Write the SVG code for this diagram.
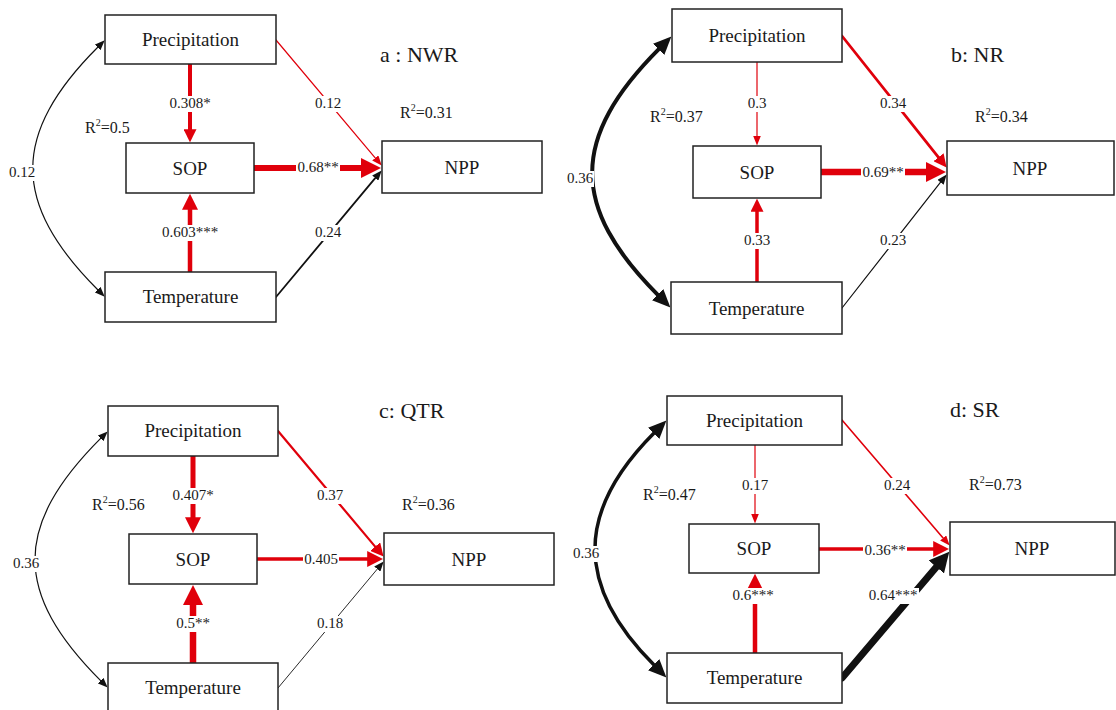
<svg xmlns="http://www.w3.org/2000/svg" width="1116" height="710" viewBox="0 0 1116 710">
<style>
text { font-family: "Liberation Serif", "Times New Roman", serif; fill: #1a1a1a; }
.box { fill: #fff; stroke: #222; stroke-width: 1.5; }
.nt { font-size: 19px; text-anchor: middle; }
.lb { font-size: 15px; text-anchor: middle; }
.r2 { font-size: 16px; }
.ti { font-size: 22px; }
.bg { fill: #fff; }
.red { fill: none; stroke: #e0000b; stroke-linecap: round; }
.blk { fill: none; stroke: #111; stroke-linecap: round; }
</style>
<defs>
<marker id="rS" markerUnits="userSpaceOnUse" markerWidth="10" markerHeight="8" viewBox="0 0 10 10" refX="0.5" refY="5" orient="auto-start-reverse" preserveAspectRatio="none"><path d="M0,0 L10,5 L0,10 Z" fill="#e0000b"/></marker>
<marker id="rM" markerUnits="userSpaceOnUse" markerWidth="13" markerHeight="13" viewBox="0 0 10 10" refX="0.5" refY="5" orient="auto-start-reverse" preserveAspectRatio="none"><path d="M0,0 L10,5 L0,10 Z" fill="#e0000b"/></marker>
<marker id="rL" markerUnits="userSpaceOnUse" markerWidth="16" markerHeight="16" viewBox="0 0 10 10" refX="0.5" refY="5" orient="auto-start-reverse" preserveAspectRatio="none"><path d="M0,0 L10,5 L0,10 Z" fill="#e0000b"/></marker>
<marker id="rX" markerUnits="userSpaceOnUse" markerWidth="20" markerHeight="20" viewBox="0 0 10 10" refX="0.5" refY="5" orient="auto-start-reverse" preserveAspectRatio="none"><path d="M0,0 L10,5 L0,10 Z" fill="#e0000b"/></marker>
<marker id="kS" markerUnits="userSpaceOnUse" markerWidth="10" markerHeight="8" viewBox="0 0 10 10" refX="0.5" refY="5" orient="auto-start-reverse" preserveAspectRatio="none"><path d="M0,0 L10,5 L0,10 Z" fill="#111"/></marker>
<marker id="kL" markerUnits="userSpaceOnUse" markerWidth="18" markerHeight="16" viewBox="0 0 10 10" refX="0.5" refY="5" orient="auto-start-reverse" preserveAspectRatio="none"><path d="M0,0 L10,5 L0,10 Z" fill="#111"/></marker>
<marker id="kX" markerUnits="userSpaceOnUse" markerWidth="20" markerHeight="20" viewBox="0 0 10 10" refX="0.5" refY="5" orient="auto-start-reverse" preserveAspectRatio="none"><path d="M0,0 L10,5 L0,10 Z" fill="#111"/></marker>
</defs>
<rect width="1116" height="710" fill="#fff"/>

<g id="connectors">
  <!-- panel a -->
  <path class="blk" stroke-width="1.2" d="M98,47 C11,134 11,203 98,290" marker-start="url(#kS)" marker-end="url(#kS)"/>
  <path class="red" stroke-width="4" d="M190,64 V130" marker-end="url(#rM)"/>
  <path class="red" stroke-width="4.5" d="M190,272 V209" marker-end="url(#rL)"/>
  <path class="red" stroke-width="1.2" d="M276,40 L375.6,158.3" marker-end="url(#rS)"/>
  <path class="red" stroke-width="6" d="M254,168 H362" marker-end="url(#rX)"/>
  <path class="blk" stroke-width="1.8" d="M276,297 L375.6,177.7" marker-end="url(#kS)"/>
  <!-- panel b -->
  <path class="blk" stroke-width="4" d="M659.3,48.7 C570,138 570,207 658.3,295.3" marker-start="url(#kL)" marker-end="url(#kL)"/>
  <path class="red" stroke-width="1.2" d="M757,62 V136" marker-end="url(#rS)"/>
  <path class="red" stroke-width="3.5" d="M757,282 V211" marker-end="url(#rM)"/>
  <path class="red" stroke-width="2.8" d="M842,36 L938.9,157.8" marker-end="url(#rM)"/>
  <path class="red" stroke-width="6.5" d="M821,172 H927" marker-end="url(#rX)"/>
  <path class="blk" stroke-width="1.2" d="M842,308 L940.8,181.9" marker-end="url(#kS)"/>
  <!-- panel c -->
  <path class="blk" stroke-width="1.2" d="M100.9,438.1 C13,526 13,593 100.9,680.9" marker-start="url(#kS)" marker-end="url(#kS)"/>
  <path class="red" stroke-width="5" d="M193,456 V518" marker-end="url(#rL)"/>
  <path class="red" stroke-width="6.5" d="M193,663 V604" marker-end="url(#rX)"/>
  <path class="red" stroke-width="2.2" d="M278,431 L375.6,547.1" marker-end="url(#rM)"/>
  <path class="red" stroke-width="3.5" d="M257,559 H368" marker-end="url(#rL)"/>
  <path class="blk" stroke-width="0.9" d="M278,688 L377.6,568.7" marker-end="url(#kS)"/>
  <!-- panel d -->
  <path class="blk" stroke-width="3.5" d="M654.3,432.7 C575.2,511.8 575.2,586.2 654.3,665.3" marker-start="url(#kL)" marker-end="url(#kL)"/>
  <path class="red" stroke-width="1.2" d="M755,445 V514" marker-end="url(#rS)"/>
  <path class="red" stroke-width="4.5" d="M755,653 V589" marker-end="url(#rL)"/>
  <path class="red" stroke-width="1.6" d="M842,420 L943.5,538.4" marker-end="url(#rS)"/>
  <path class="red" stroke-width="3.5" d="M819,549 H934" marker-end="url(#rL)"/>
  <path class="blk" stroke-width="7" d="M842,678 L937,566.2" marker-end="url(#kX)"/>

  <!-- label backgrounds -->
  <rect class="bg" x="8" y="165" width="28" height="16"/>
  <rect class="bg" x="168" y="96" width="44" height="16"/>
  <rect class="bg" x="314" y="96" width="28" height="16"/>
  <rect class="bg" x="296" y="160" width="44" height="16"/>
  <rect class="bg" x="161" y="225" width="58" height="16"/>
  <rect class="bg" x="314" y="225" width="28" height="16"/>

  <rect class="bg" x="566" y="171" width="28" height="16"/>
  <rect class="bg" x="746" y="96" width="22" height="16"/>
  <rect class="bg" x="879" y="96" width="28" height="16"/>
  <rect class="bg" x="861" y="165" width="44" height="16"/>
  <rect class="bg" x="743" y="233" width="28" height="16"/>
  <rect class="bg" x="879" y="233" width="28" height="16"/>

  <rect class="bg" x="12" y="556" width="28" height="16"/>
  <rect class="bg" x="171" y="488" width="44" height="16"/>
  <rect class="bg" x="316" y="488" width="28" height="16"/>
  <rect class="bg" x="303" y="552" width="36" height="16"/>
  <rect class="bg" x="175" y="616" width="36" height="16"/>
  <rect class="bg" x="316" y="616" width="28" height="16"/>

  <rect class="bg" x="572" y="546" width="28" height="16"/>
  <rect class="bg" x="741" y="478" width="28" height="16"/>
  <rect class="bg" x="883" y="478" width="28" height="16"/>
  <rect class="bg" x="863" y="543" width="44" height="16"/>
  <rect class="bg" x="731" y="588" width="44" height="16"/>
  <rect class="bg" x="867" y="588" width="52" height="16"/>

  <!-- labels -->
  <text class="lb" x="22" y="177">0.12</text>
  <text class="lb" x="190" y="108">0.308*</text>
  <text class="lb" x="328" y="108">0.12</text>
  <text class="lb" x="318" y="172">0.68**</text>
  <text class="lb" x="190" y="237">0.603***</text>
  <text class="lb" x="328" y="237">0.24</text>

  <text class="lb" x="580" y="183">0.36</text>
  <text class="lb" x="757" y="108">0.3</text>
  <text class="lb" x="893" y="108">0.34</text>
  <text class="lb" x="883" y="177">0.69**</text>
  <text class="lb" x="757" y="245">0.33</text>
  <text class="lb" x="893" y="245">0.23</text>

  <text class="lb" x="26" y="568">0.36</text>
  <text class="lb" x="193" y="500">0.407*</text>
  <text class="lb" x="330" y="500">0.37</text>
  <text class="lb" x="321" y="564">0.405</text>
  <text class="lb" x="193" y="628">0.5**</text>
  <text class="lb" x="330" y="628">0.18</text>

  <text class="lb" x="586" y="558">0.36</text>
  <text class="lb" x="755" y="490">0.17</text>
  <text class="lb" x="897" y="490">0.24</text>
  <text class="lb" x="885" y="555">0.36**</text>
  <text class="lb" x="753" y="600">0.6***</text>
  <text class="lb" x="893" y="600">0.64***</text>
</g>

<!-- panel a nodes -->
<g id="a-prec"><rect class="box" x="105" y="15" width="171" height="49"/><text class="nt" x="190.5" y="45.5">Precipitation</text></g>
<g id="a-sop"><rect class="box" x="126" y="143" width="128" height="50"/><text class="nt" x="190" y="174.5">SOP</text></g>
<g id="a-temp"><rect class="box" x="105" y="272" width="171" height="50"/><text class="nt" x="190.5" y="302.5">Temperature</text></g>
<g id="a-npp"><rect class="box" x="382" y="141" width="160" height="52"/><text class="nt" x="462" y="173.5">NPP</text></g>
<g id="a-title"><text class="ti" x="380" y="62">a : NWR</text></g>
<g id="a-r2"><text class="r2" x="85" y="133">R<tspan font-size="10" dy="-7">2</tspan><tspan dy="7">=0.5</tspan></text><text class="r2" x="400" y="118">R<tspan font-size="10" dy="-7">2</tspan><tspan dy="7">=0.31</tspan></text></g>

<!-- panel b nodes -->
<g id="b-prec"><rect class="box" x="672" y="9" width="170" height="53"/><text class="nt" x="757" y="42">Precipitation</text></g>
<g id="b-sop"><rect class="box" x="693" y="146" width="128" height="52"/><text class="nt" x="757" y="178.5">SOP</text></g>
<g id="b-temp"><rect class="box" x="671" y="282" width="171" height="52"/><text class="nt" x="756.5" y="314.5">Temperature</text></g>
<g id="b-npp"><rect class="box" x="947" y="141" width="167" height="54"/><text class="nt" x="1030" y="174.5">NPP</text></g>
<g id="b-title"><text class="ti" x="951" y="62">b: NR</text></g>
<g id="b-r2"><text class="r2" x="650" y="122">R<tspan font-size="10" dy="-7">2</tspan><tspan dy="7">=0.37</tspan></text><text class="r2" x="975" y="122">R<tspan font-size="10" dy="-7">2</tspan><tspan dy="7">=0.34</tspan></text></g>

<!-- panel c nodes -->
<g id="c-prec"><rect class="box" x="108" y="406" width="170" height="50"/><text class="nt" x="193" y="437">Precipitation</text></g>
<g id="c-sop"><rect class="box" x="129" y="534" width="128" height="50"/><text class="nt" x="193" y="565.5">SOP</text></g>
<g id="c-temp"><rect class="box" x="108" y="663" width="170" height="50"/><text class="nt" x="193" y="694">Temperature</text></g>
<g id="c-npp"><rect class="box" x="384" y="533" width="170" height="52"/><text class="nt" x="469" y="565.5">NPP</text></g>
<g id="c-title"><text class="ti" x="379" y="418">c: QTR</text></g>
<g id="c-r2"><text class="r2" x="92" y="510">R<tspan font-size="10" dy="-7">2</tspan><tspan dy="7">=0.56</tspan></text><text class="r2" x="402" y="510">R<tspan font-size="10" dy="-7">2</tspan><tspan dy="7">=0.36</tspan></text></g>

<!-- panel d nodes -->
<g id="d-prec"><rect class="box" x="667" y="396" width="175" height="49"/><text class="nt" x="754.5" y="426.5">Precipitation</text></g>
<g id="d-sop"><rect class="box" x="689" y="524" width="130" height="49"/><text class="nt" x="754" y="555">SOP</text></g>
<g id="d-temp"><rect class="box" x="667" y="653" width="175" height="50"/><text class="nt" x="754.5" y="684">Temperature</text></g>
<g id="d-npp"><rect class="box" x="950" y="522" width="165" height="53"/><text class="nt" x="1032" y="555">NPP</text></g>
<g id="d-title"><text class="ti" x="950" y="417">d: SR</text></g>
<g id="d-r2"><text class="r2" x="643" y="500">R<tspan font-size="10" dy="-7">2</tspan><tspan dy="7">=0.47</tspan></text><text class="r2" x="969" y="490">R<tspan font-size="10" dy="-7">2</tspan><tspan dy="7">=0.73</tspan></text></g>
</svg>
